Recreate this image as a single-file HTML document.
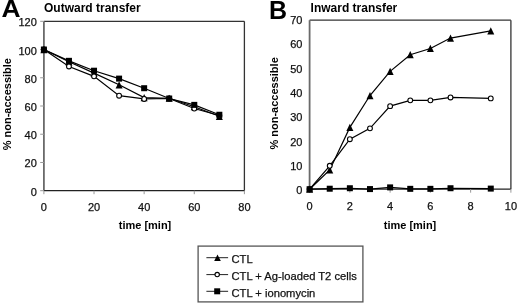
<!DOCTYPE html><html><head><meta charset="utf-8"><style>html,body{margin:0;padding:0;background:#fff;}body{filter:grayscale(1);}svg{display:block;}</style></head><body>
<svg width="520" height="304" viewBox="0 0 520 304" font-family='"Liberation Sans", sans-serif'>
<rect width="520" height="304" fill="#fff"/>
<text transform="translate(1.4,17.2) scale(1.1,0.97)" font-size="24" font-weight="bold">A</text>
<text x="268.9" y="19.0" font-size="25" font-weight="bold">B</text>
<text x="44.0" y="12.2" font-size="12" font-weight="bold">Outward transfer</text>
<text x="310.6" y="12.1" font-size="12" font-weight="bold">Inward transfer</text>
<g stroke="#222" stroke-width="1.3" fill="none">
<line x1="43.90" y1="21.30" x2="244.40" y2="21.30" stroke="#333"/>
<line x1="244.40" y1="21.30" x2="244.40" y2="190.70" stroke="#333"/>
<line x1="43.90" y1="21.30" x2="43.90" y2="190.70" stroke="#6a6a6a" stroke-width="1.8"/>
<line x1="43.90" y1="190.70" x2="244.40" y2="190.70"/>
</g>
<g stroke="#999" stroke-width="1">
<line x1="40.2" y1="190.70" x2="43.90" y2="190.70"/>
<line x1="40.2" y1="162.47" x2="43.90" y2="162.47"/>
<line x1="40.2" y1="134.23" x2="43.90" y2="134.23"/>
<line x1="40.2" y1="106.00" x2="43.90" y2="106.00"/>
<line x1="40.2" y1="77.77" x2="43.90" y2="77.77"/>
<line x1="40.2" y1="49.53" x2="43.90" y2="49.53"/>
<line x1="40.2" y1="21.30" x2="43.90" y2="21.30"/>
<line x1="43.90" y1="190.70" x2="43.90" y2="194.20"/>
<line x1="94.03" y1="190.70" x2="94.03" y2="194.20"/>
<line x1="144.15" y1="190.70" x2="144.15" y2="194.20"/>
<line x1="194.28" y1="190.70" x2="194.28" y2="194.20"/>
<line x1="244.40" y1="190.70" x2="244.40" y2="194.20"/>
</g>
<g font-size="11" fill="#111" stroke="#111" stroke-width="0.25">
<text x="36.8" y="195.70" text-anchor="end">0</text>
<text x="36.8" y="167.47" text-anchor="end">20</text>
<text x="36.8" y="139.23" text-anchor="end">40</text>
<text x="36.8" y="111.00" text-anchor="end">60</text>
<text x="36.8" y="82.77" text-anchor="end">80</text>
<text x="36.8" y="54.53" text-anchor="end">100</text>
<text x="36.8" y="26.30" text-anchor="end">120</text>
<text x="43.90" y="211" text-anchor="middle">0</text>
<text x="94.03" y="211" text-anchor="middle">20</text>
<text x="144.15" y="211" text-anchor="middle">40</text>
<text x="194.28" y="211" text-anchor="middle">60</text>
<text x="244.40" y="211" text-anchor="middle">80</text>
</g>
<text x="145" y="229" font-size="11" font-weight="bold" text-anchor="middle">time [min]</text>
<text transform="translate(11.3,104.2) rotate(-90)" font-size="11" font-weight="bold" text-anchor="middle">% non-accessible</text>
<polyline fill="none" stroke="#000" stroke-width="1.2" points="43.90,49.53 68.96,61.81 94.03,73.11 119.09,84.83 144.15,97.53 169.21,98.24 194.28,106.71 219.34,116.31"/>
<polyline fill="none" stroke="#000" stroke-width="1.2" points="43.90,49.53 68.96,66.47 94.03,76.36 119.09,95.69 144.15,98.94 169.21,98.52 194.28,108.54 219.34,115.46"/>
<polyline fill="none" stroke="#000" stroke-width="1.2" points="43.90,49.53 68.96,60.83 94.03,70.71 119.09,78.61 144.15,88.21 169.21,98.52 194.28,104.87 219.34,114.75"/>
<polygon fill="#000" points="43.90,45.93 40.40,53.13 47.40,53.13"/>
<polygon fill="#000" points="68.96,58.21 65.46,65.41 72.46,65.41"/>
<polygon fill="#000" points="94.03,69.51 90.53,76.71 97.53,76.71"/>
<polygon fill="#000" points="119.09,81.23 115.59,88.42 122.59,88.42"/>
<polygon fill="#000" points="144.15,93.93 140.65,101.13 147.65,101.13"/>
<polygon fill="#000" points="169.21,94.64 165.71,101.84 172.71,101.84"/>
<polygon fill="#000" points="194.28,103.11 190.78,110.31 197.78,110.31"/>
<polygon fill="#000" points="219.34,112.71 215.84,119.91 222.84,119.91"/>
<circle cx="43.90" cy="49.53" r="2.40" fill="#fff" stroke="#000" stroke-width="1.1"/>
<circle cx="68.96" cy="66.47" r="2.40" fill="#fff" stroke="#000" stroke-width="1.1"/>
<circle cx="94.03" cy="76.36" r="2.40" fill="#fff" stroke="#000" stroke-width="1.1"/>
<circle cx="119.09" cy="95.69" r="2.40" fill="#fff" stroke="#000" stroke-width="1.1"/>
<circle cx="144.15" cy="98.94" r="2.40" fill="#fff" stroke="#000" stroke-width="1.1"/>
<circle cx="169.21" cy="98.52" r="2.40" fill="#fff" stroke="#000" stroke-width="1.1"/>
<circle cx="194.28" cy="108.54" r="2.40" fill="#fff" stroke="#000" stroke-width="1.1"/>
<circle cx="219.34" cy="115.46" r="2.40" fill="#fff" stroke="#000" stroke-width="1.1"/>
<rect x="40.90" y="46.53" width="6.00" height="6.00" fill="#000"/>
<rect x="65.96" y="57.83" width="6.00" height="6.00" fill="#000"/>
<rect x="91.03" y="67.71" width="6.00" height="6.00" fill="#000"/>
<rect x="116.09" y="75.61" width="6.00" height="6.00" fill="#000"/>
<rect x="141.15" y="85.21" width="6.00" height="6.00" fill="#000"/>
<rect x="166.21" y="95.52" width="6.00" height="6.00" fill="#000"/>
<rect x="191.28" y="101.87" width="6.00" height="6.00" fill="#000"/>
<rect x="216.34" y="111.75" width="6.00" height="6.00" fill="#000"/>
<g stroke="#222" stroke-width="1.3" fill="none">
<line x1="309.60" y1="20.20" x2="510.90" y2="20.20" stroke="#333"/>
<line x1="510.90" y1="20.20" x2="510.90" y2="189.20" stroke="#333"/>
<line x1="309.60" y1="20.20" x2="309.60" y2="189.20" stroke="#6a6a6a" stroke-width="1.8"/>
<line x1="309.60" y1="189.20" x2="510.90" y2="189.20"/>
</g>
<g stroke="#999" stroke-width="1">
<line x1="309.60" y1="189.20" x2="309.60" y2="192.70"/>
<line x1="349.86" y1="189.20" x2="349.86" y2="192.70"/>
<line x1="390.12" y1="189.20" x2="390.12" y2="192.70"/>
<line x1="430.38" y1="189.20" x2="430.38" y2="192.70"/>
<line x1="470.64" y1="189.20" x2="470.64" y2="192.70"/>
<line x1="510.90" y1="189.20" x2="510.90" y2="192.70"/>
</g>
<g font-size="11" fill="#111" stroke="#111" stroke-width="0.25">
<text x="302.4" y="193.90" text-anchor="end">0</text>
<text x="302.4" y="169.76" text-anchor="end">10</text>
<text x="302.4" y="145.61" text-anchor="end">20</text>
<text x="302.4" y="121.47" text-anchor="end">30</text>
<text x="302.4" y="97.33" text-anchor="end">40</text>
<text x="302.4" y="73.19" text-anchor="end">50</text>
<text x="302.4" y="48.34" text-anchor="end">60</text>
<text x="302.4" y="24.20" text-anchor="end">70</text>
<text x="309.60" y="210" text-anchor="middle">0</text>
<text x="349.86" y="210" text-anchor="middle">2</text>
<text x="390.12" y="210" text-anchor="middle">4</text>
<text x="430.38" y="210" text-anchor="middle">6</text>
<text x="470.64" y="210" text-anchor="middle">8</text>
<text x="510.90" y="210" text-anchor="middle">10</text>
</g>
<text x="410" y="228.6" font-size="11" font-weight="bold" text-anchor="middle">time [min]</text>
<text transform="translate(278.4,103.4) rotate(-90)" font-size="11" font-weight="bold" text-anchor="middle">% non-accessible</text>
<polyline fill="none" stroke="#000" stroke-width="1.2" points="309.60,189.20 329.73,169.89 349.86,127.39 369.99,95.53 390.12,71.38 410.25,54.72 430.38,48.45 450.51,38.07 490.77,30.82"/>
<polyline fill="none" stroke="#000" stroke-width="1.2" points="309.60,189.20 329.73,165.78 349.86,139.22 369.99,128.36 390.12,106.15 410.25,100.35 430.38,100.35 450.51,97.46 490.77,98.42"/>
<polyline fill="none" stroke="#000" stroke-width="1.2" points="309.60,189.20 329.73,188.72 349.86,188.23 369.99,189.08 390.12,187.39 410.25,188.84 430.38,188.84 450.51,188.23 490.77,188.60"/>
<polygon fill="#000" points="309.60,185.60 306.10,192.80 313.10,192.80"/>
<polygon fill="#000" points="329.73,166.29 326.23,173.49 333.23,173.49"/>
<polygon fill="#000" points="349.86,123.79 346.36,130.99 353.36,130.99"/>
<polygon fill="#000" points="369.99,91.93 366.49,99.13 373.49,99.13"/>
<polygon fill="#000" points="390.12,67.78 386.62,74.98 393.62,74.98"/>
<polygon fill="#000" points="410.25,51.12 406.75,58.32 413.75,58.32"/>
<polygon fill="#000" points="430.38,44.85 426.88,52.05 433.88,52.05"/>
<polygon fill="#000" points="450.51,34.47 447.01,41.67 454.01,41.67"/>
<polygon fill="#000" points="490.77,27.22 487.27,34.42 494.27,34.42"/>
<circle cx="309.60" cy="189.20" r="2.40" fill="#fff" stroke="#000" stroke-width="1.1"/>
<circle cx="329.73" cy="165.78" r="2.40" fill="#fff" stroke="#000" stroke-width="1.1"/>
<circle cx="349.86" cy="139.22" r="2.40" fill="#fff" stroke="#000" stroke-width="1.1"/>
<circle cx="369.99" cy="128.36" r="2.40" fill="#fff" stroke="#000" stroke-width="1.1"/>
<circle cx="390.12" cy="106.15" r="2.40" fill="#fff" stroke="#000" stroke-width="1.1"/>
<circle cx="410.25" cy="100.35" r="2.40" fill="#fff" stroke="#000" stroke-width="1.1"/>
<circle cx="430.38" cy="100.35" r="2.40" fill="#fff" stroke="#000" stroke-width="1.1"/>
<circle cx="450.51" cy="97.46" r="2.40" fill="#fff" stroke="#000" stroke-width="1.1"/>
<circle cx="490.77" cy="98.42" r="2.40" fill="#fff" stroke="#000" stroke-width="1.1"/>
<rect x="306.60" y="186.20" width="6.00" height="6.00" fill="#000"/>
<rect x="326.73" y="185.72" width="6.00" height="6.00" fill="#000"/>
<rect x="346.86" y="185.23" width="6.00" height="6.00" fill="#000"/>
<rect x="366.99" y="186.08" width="6.00" height="6.00" fill="#000"/>
<rect x="387.12" y="184.39" width="6.00" height="6.00" fill="#000"/>
<rect x="407.25" y="185.84" width="6.00" height="6.00" fill="#000"/>
<rect x="427.38" y="185.84" width="6.00" height="6.00" fill="#000"/>
<rect x="447.51" y="185.23" width="6.00" height="6.00" fill="#000"/>
<rect x="487.77" y="185.60" width="6.00" height="6.00" fill="#000"/>
<rect x="198.1" y="246.1" width="164.8" height="55.8" fill="none" stroke="#555" stroke-width="1.3"/>
<line x1="206.4" y1="257.70" x2="228.1" y2="257.70" stroke="#222" stroke-width="1"/>
<polygon fill="#000" points="217.50,254.50 214.20,260.90 220.80,260.90"/>
<text x="231.5" y="262.90" font-size="11.2" fill="#111" stroke="#111" stroke-width="0.25">CTL</text>
<line x1="206.4" y1="274.60" x2="228.1" y2="274.60" stroke="#222" stroke-width="1"/>
<circle cx="217.20" cy="274.60" r="2.20" fill="#fff" stroke="#000" stroke-width="1.1"/>
<text x="231.5" y="279.80" font-size="11.2" fill="#111" stroke="#111" stroke-width="0.25">CTL + Ag-loaded T2 cells</text>
<line x1="206.4" y1="291.30" x2="228.1" y2="291.30" stroke="#222" stroke-width="1"/>
<rect x="214.20" y="288.30" width="6.00" height="6.00" fill="#000"/>
<text x="231.5" y="296.50" font-size="11.2" fill="#111" stroke="#111" stroke-width="0.25">CTL + ionomycin</text>
</svg></body></html>
